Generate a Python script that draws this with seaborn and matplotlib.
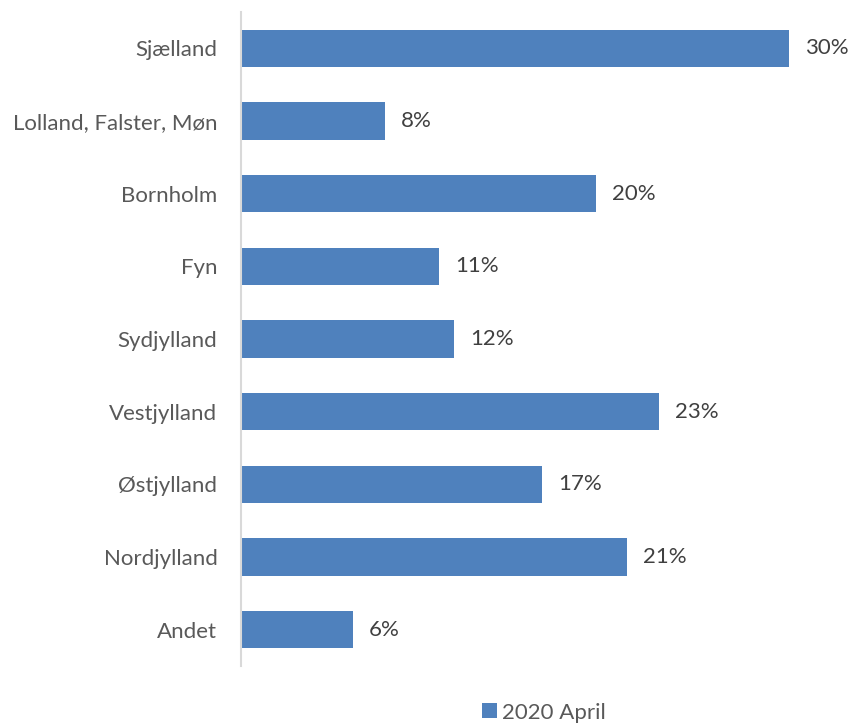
import matplotlib
matplotlib.use("Agg")
import matplotlib.pyplot as plt
from matplotlib.patches import Patch
import seaborn as sns
import pandas as pd

# Regions and share (%) for 2020 April
regions = ['Sjælland', 'Lolland, Falster, Møn', 'Bornholm', 'Fyn', 'Sydjylland',
           'Vestjylland', 'Østjylland', 'Nordjylland', 'Andet']
share = [30.4, 8.0, 19.7, 11.0, 11.8, 23.2, 16.7, 21.4, 6.2]
series_name = '2020 April'

c_bar = '#4F81BD'
c_tick = '#595959'
c_label = '#404040'
c_axis = '#D9D9D9'

sns.set_style('white')
plt.rcParams['font.family'] = ['Lato', 'DejaVu Sans']

df = pd.DataFrame({'Region': regions, 'Share': share})

fig = plt.figure(figsize=(8.51, 7.28), dpi=100)
ax = fig.add_axes([241 / 851, 62 / 728, 577 / 851, 654 / 728])

sns.barplot(data=df, x='Share', y='Region', color=c_bar, width=0.51,
            saturation=1, edgecolor='none', ax=ax)

# value labels just right of each bar
ax.bar_label(ax.containers[0], fmt='{:.0f}%', padding=11.5,
             fontsize=16, color=c_label)

ax.set_xlim(0, 32)
ax.set_ylim(len(regions) - 0.5, -0.5)
ax.set_xlabel('')
ax.set_ylabel('')
ax.set_xticks([])
ax.tick_params(axis='y', length=0, pad=17, labelsize=16, labelcolor=c_tick)

for side in ['top', 'right', 'bottom']:
    ax.spines[side].set_visible(False)
ax.spines['left'].set_color(c_axis)
ax.spines['left'].set_linewidth(1.5)

handles = [Patch(facecolor=c_bar, edgecolor='none', label=series_name)]
leg = fig.legend(handles=handles, loc='lower center', bbox_to_anchor=(544 / 851, -0.02),
                 frameon=False, fontsize=16, handlelength=0.65, handleheight=0.65,
                 handletextpad=0.25)
for t in leg.get_texts():
    t.set_color(c_tick)

fig.savefig('out.png', dpi=100)
